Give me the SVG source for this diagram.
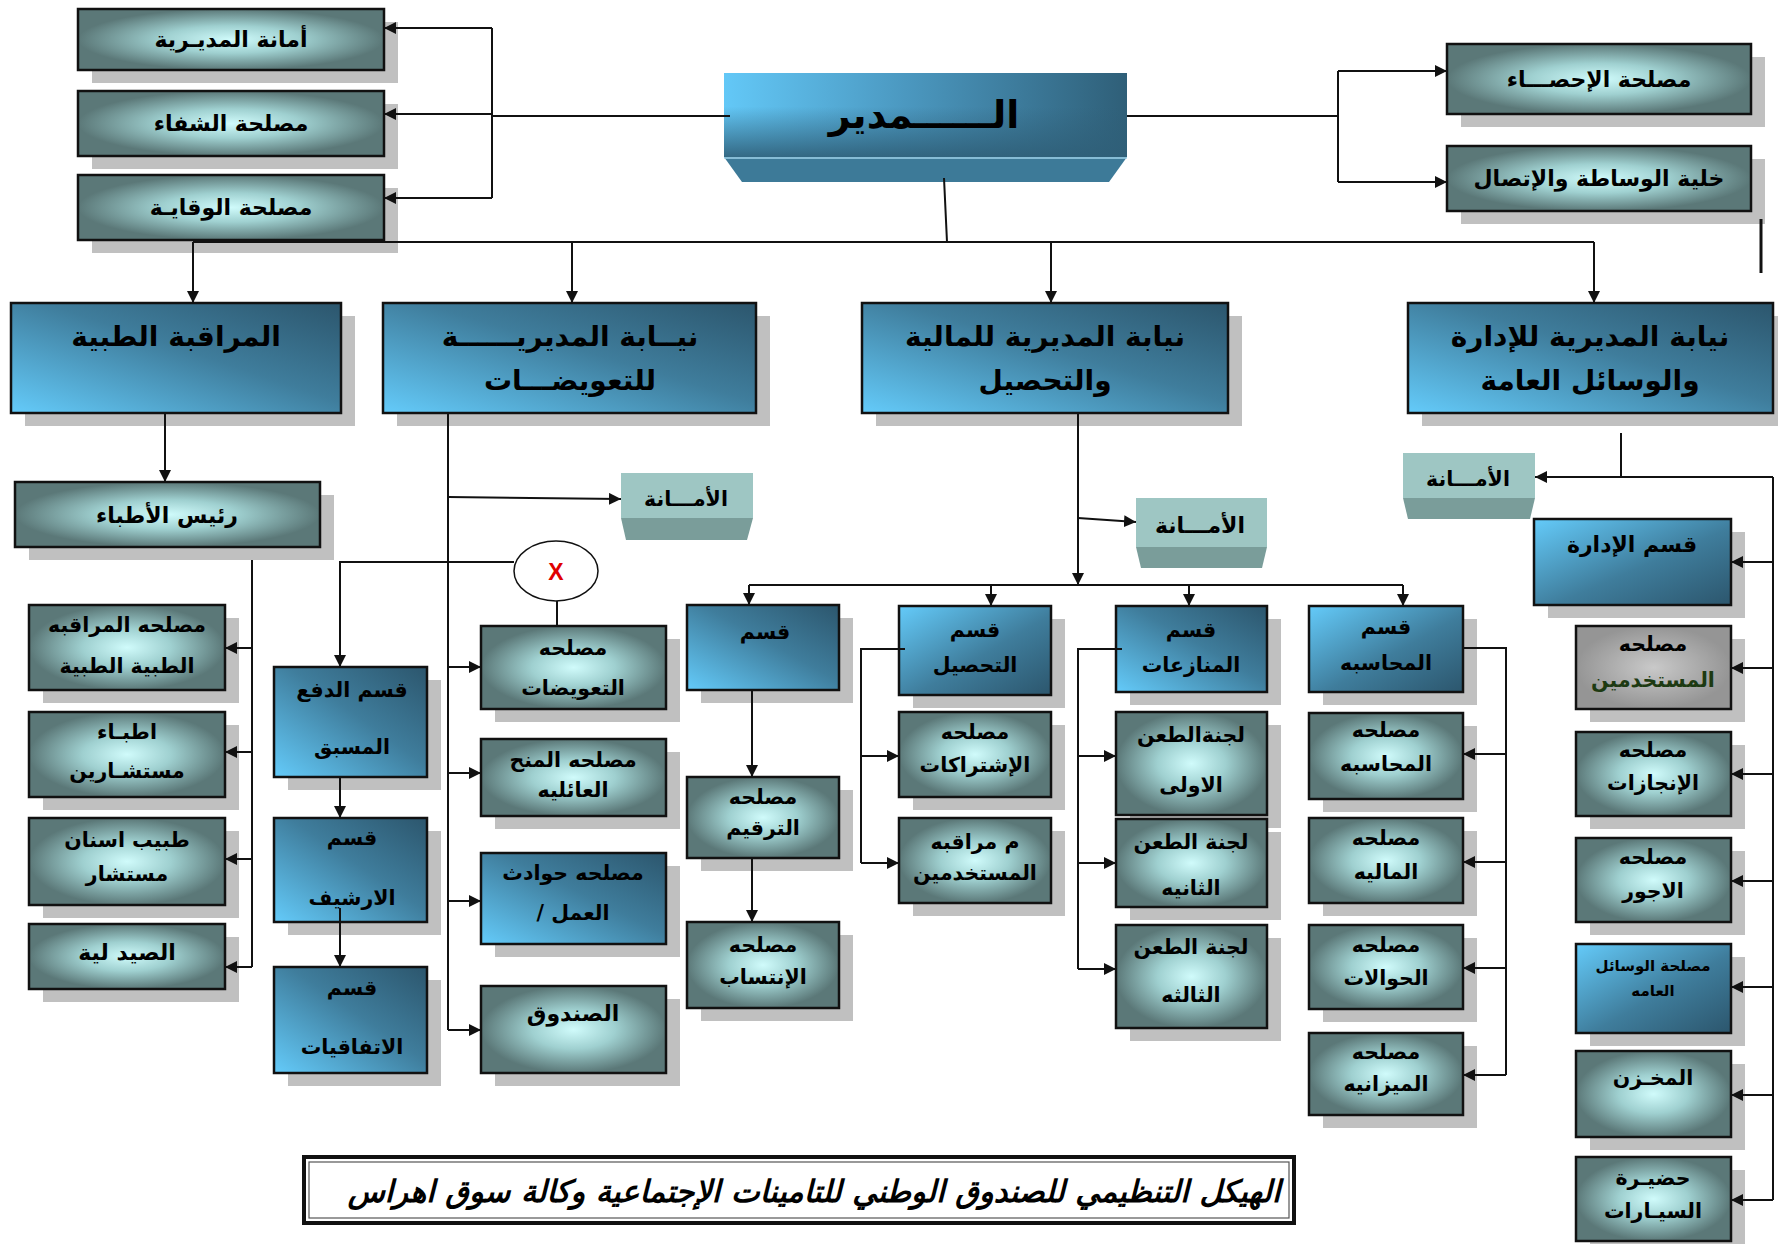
<svg xmlns="http://www.w3.org/2000/svg" width="1778" height="1244" viewBox="0 0 1778 1244">
<defs>
<radialGradient id="gTeal" cx="0.5" cy="0.5" r="0.5">
<stop offset="0" stop-color="#d0fbfb"/><stop offset="0.45" stop-color="#9fd0d0"/><stop offset="1" stop-color="#5b7878"/>
</radialGradient>
<radialGradient id="gGrey" cx="0.5" cy="0.5" r="0.5">
<stop offset="0" stop-color="#c9c9c9"/><stop offset="1" stop-color="#959595"/>
</radialGradient>
<linearGradient id="gBlueA" x1="0" y1="1" x2="1" y2="0">
<stop offset="0" stop-color="#64cbfa"/><stop offset="0.55" stop-color="#3f7d9c"/><stop offset="1" stop-color="#2c566d"/>
</linearGradient>
<linearGradient id="gBlueB" x1="0" y1="0" x2="1" y2="1">
<stop offset="0" stop-color="#64cbfa"/><stop offset="0.55" stop-color="#3f7d9c"/><stop offset="1" stop-color="#2c566d"/>
</linearGradient>
<linearGradient id="gDirH" x1="0" y1="0" x2="1" y2="0">
<stop offset="0" stop-color="#63c8f7"/><stop offset="0.45" stop-color="#4b98c0"/><stop offset="1" stop-color="#2f5f78"/>
</linearGradient>
<linearGradient id="gDirV" x1="0" y1="0" x2="0" y2="1">
<stop offset="0" stop-color="#2f5f78" stop-opacity="0"/><stop offset="0.4" stop-color="#2f5f78" stop-opacity="0"/><stop offset="1" stop-color="#2f5f78" stop-opacity="0.9"/>
</linearGradient>
<marker id="arr" markerUnits="userSpaceOnUse" markerWidth="12" markerHeight="12" refX="12" refY="6" orient="auto">
<path d="M0,0 L12,6 L0,12 z" fill="#111"/>
</marker>
<style>
.sh{fill:#c0c0c0}
.teal{fill:url(#gTeal);stroke:#111;stroke-width:2.5}
.grey{fill:url(#gGrey);stroke:#111;stroke-width:2.5}
.blA{fill:url(#gBlueA);stroke:#111;stroke-width:2.5}
.blB{fill:url(#gBlueB);stroke:#111;stroke-width:2.5}
.amf{fill:#9ec6c3}
.amb{fill:#7a9d9a}
text{font-family:"DejaVu Sans","Noto Sans",sans-serif;font-weight:bold;fill:#000;text-anchor:middle}
.s19{font-size:20.5px}
.s22{font-size:22px}
.s28{font-size:28px}
.ln{stroke:#111;stroke-width:2;fill:none}
.ar{stroke:#111;stroke-width:2;fill:none;marker-end:url(#arr)}
</style>
</defs>
<rect width="1778" height="1244" fill="#fff"/>

<g id="n-amana-mudiriya"><rect class="sh" x="92" y="22" width="306" height="61"/><rect class="teal" x="78" y="9" width="306" height="61"/><text class="s22" x="231" y="47">أمانة المديـرية</text></g>
<g id="n-shifa"><rect class="sh" x="92" y="104" width="306" height="65"/><rect class="teal" x="78" y="91" width="306" height="65"/><text class="s22" x="231" y="131">مصلحة الشفاء</text></g>
<g id="n-wiqaya"><rect class="sh" x="92" y="188" width="306" height="65"/><rect class="teal" x="78" y="175" width="306" height="65"/><text class="s22" x="231" y="215">مصلحة الوقايـة</text></g>

<g id="n-mudir"><rect x="724" y="73" width="403" height="84" fill="url(#gDirH)"/><rect x="724" y="73" width="403" height="84" fill="url(#gDirV)"/><polygon points="724,157 1127,157 1109,182 742,182" fill="#3d7a98"/><line x1="724" y1="158" x2="1127" y2="158" stroke="#9fd3ea" stroke-width="1.5"/><text x="924" y="128" style="font-size:38px">الــــــمدير</text></g>

<g id="n-ihsa"><rect class="sh" x="1461" y="57" width="304" height="70"/><rect class="teal" x="1447" y="44" width="304" height="70"/><text class="s22" x="1599" y="87">مصلحة الإحصـــاء</text></g>
<g id="n-khalia"><rect class="sh" x="1461" y="159" width="304" height="65"/><rect class="teal" x="1447" y="146" width="304" height="65"/><text class="s22" x="1599" y="186">خلية الوساطة والإتصال</text></g>

<g id="n-muraqaba"><rect class="sh" x="25" y="316" width="330" height="110"/><rect class="blA" x="11" y="303" width="330" height="110"/><text class="s28" x="176" y="346">المراقبة الطبية</text></g>
<g id="n-taawidat"><rect class="sh" x="397" y="316" width="373" height="110"/><rect class="blA" x="383" y="303" width="373" height="110"/><text class="s28" x="570" y="346">نيــابة المديريــــــة</text><text class="s28" x="570" y="390">للتعويضـــات</text></g>
<g id="n-maliya"><rect class="sh" x="876" y="316" width="366" height="110"/><rect class="blA" x="862" y="303" width="366" height="110"/><text class="s28" x="1045" y="346">نيابة المديرية للمالية</text><text class="s28" x="1045" y="390">والتحصيل</text></g>
<g id="n-idara"><rect class="sh" x="1422" y="316" width="365" height="110"/><rect class="blA" x="1408" y="303" width="365" height="110"/><text class="s28" x="1590" y="346">نيابة المديرية للإدارة</text><text class="s28" x="1590" y="390">والوسائل العامة</text></g>

<g id="n-rais"><rect class="sh" x="29" y="495" width="305" height="65"/><rect class="teal" x="15" y="482" width="305" height="65"/><text class="s22" x="167" y="523">رئيس الأطباء</text></g>

<g id="n-amana-1"><rect class="amf" x="621" y="473" width="132" height="45"/><polygon class="amb" points="621,518 753,518 747,540 626,540"/><text class="s19" x="686" y="506">الأمـــانة</text></g>
<g id="n-amana-2"><rect class="amf" x="1136" y="498" width="131" height="49"/><polygon class="amb" points="1136,547 1267,547 1262,568 1141,568"/><text class="s22" x="1200" y="533">الأمـــانة</text></g>
<g id="n-amana-3"><rect class="amf" x="1403" y="453" width="132" height="45"/><polygon class="amb" points="1403,498 1535,498 1530,519 1408,519"/><text class="s19" x="1468" y="486">الأمـــانة</text></g>

<g id="n-x"><ellipse cx="556" cy="571" rx="42" ry="30" fill="#fff" stroke="#111" stroke-width="1.5"/><text x="556" y="580" style="font-size:23px;fill:#e00000;font-family:'Liberation Sans',sans-serif">X</text></g>

<g id="n-m-muraqaba"><rect class="sh" x="43" y="618" width="196" height="85"/><rect class="teal" x="29" y="605" width="196" height="85"/><text class="s19" x="127" y="632">مصلحه المراقبه</text><text class="s19" x="127" y="673">الطبية الطبية</text></g>
<g id="n-atibba"><rect class="sh" x="43" y="725" width="196" height="85"/><rect class="teal" x="29" y="712" width="196" height="85"/><text class="s19" x="127" y="739">اطبـاء</text><text class="s19" x="127" y="778">مستشـارين</text></g>
<g id="n-asnan"><rect class="sh" x="43" y="831" width="196" height="87"/><rect class="teal" x="29" y="818" width="196" height="87"/><text class="s19" x="127" y="847">طبيب اسنان</text><text class="s19" x="127" y="881">مستشار</text></g>
<g id="n-saydalia"><rect class="sh" x="43" y="937" width="196" height="65"/><rect class="teal" x="29" y="924" width="196" height="65"/><text class="s22" x="127" y="960">الصيد لية</text></g>

<g id="n-daf"><rect class="sh" x="288" y="680" width="153" height="110"/><rect class="blA" x="274" y="667" width="153" height="110"/><text class="s19" x="352" y="697">قسم الدفع</text><text class="s19" x="352" y="754">المسبق</text></g>
<g id="n-arshif"><rect class="sh" x="288" y="831" width="153" height="104"/><rect class="blA" x="274" y="818" width="153" height="104"/><text class="s19" x="352" y="845">قسم</text><text class="s19" x="352" y="905">الارشيف</text></g>
<g id="n-ittifaqiyat"><rect class="sh" x="288" y="980" width="153" height="106"/><rect class="blA" x="274" y="967" width="153" height="106"/><text class="s19" x="352" y="995">قسم</text><text class="s19" x="352" y="1054">الاتفاقيات</text></g>

<g id="n-m-taawidat"><rect class="sh" x="495" y="639" width="185" height="83"/><rect class="teal" x="481" y="626" width="185" height="83"/><text class="s19" x="573" y="655">مصلحه</text><text class="s19" x="573" y="695">التعويضات</text></g>
<g id="n-minah"><rect class="sh" x="495" y="752" width="185" height="77"/><rect class="teal" x="481" y="739" width="185" height="77"/><text class="s19" x="573" y="767">مصلحه المنح</text><text class="s19" x="573" y="797">العائليه</text></g>
<g id="n-hawadith"><rect class="sh" x="495" y="866" width="185" height="91"/><rect class="blA" x="481" y="853" width="185" height="91"/><text class="s19" x="573" y="880">مصلحه حوادث</text><text class="s19" x="573" y="920" direction="rtl">العمل /</text></g>
<g id="n-sunduq"><rect class="sh" x="495" y="999" width="185" height="87"/><rect class="teal" x="481" y="986" width="185" height="87"/><text class="s22" x="573" y="1021">الصندوق</text></g>

<g id="n-qism"><rect class="sh" x="701" y="618" width="152" height="85"/><rect class="blA" x="687" y="605" width="152" height="85"/><text class="s19" x="765" y="639">قسم</text></g>
<g id="n-tarqim"><rect class="sh" x="701" y="790" width="152" height="81"/><rect class="teal" x="687" y="777" width="152" height="81"/><text class="s19" x="763" y="804">مصلحه</text><text class="s19" x="763" y="835">الترقيم</text></g>
<g id="n-intisab"><rect class="sh" x="701" y="935" width="152" height="86"/><rect class="teal" x="687" y="922" width="152" height="86"/><text class="s19" x="763" y="952">مصلحه</text><text class="s19" x="763" y="984">الإنتساب</text></g>

<g id="n-tahsil"><rect class="sh" x="913" y="619" width="152" height="89"/><rect class="blB" x="899" y="606" width="152" height="89"/><text class="s19" x="975" y="637">قسم</text><text class="s19" x="975" y="672">التحصيل</text></g>
<g id="n-ishtirakat"><rect class="sh" x="913" y="725" width="152" height="85"/><rect class="teal" x="899" y="712" width="152" height="85"/><text class="s19" x="975" y="739">مصلحه</text><text class="s19" x="975" y="772">الإشتراكات</text></g>
<g id="n-m-mustakhdimin"><rect class="sh" x="913" y="831" width="152" height="85"/><rect class="teal" x="899" y="818" width="152" height="85"/><text class="s19" x="975" y="849">م مراقبه</text><text class="s19" x="975" y="880">المستخدمين</text></g>

<g id="n-munazaat"><rect class="sh" x="1130" y="619" width="151" height="86"/><rect class="blA" x="1116" y="606" width="151" height="86"/><text class="s19" x="1191" y="637">قسم</text><text class="s19" x="1191" y="672">المنازعات</text></g>
<g id="n-taan1"><rect class="sh" x="1130" y="725" width="151" height="103"/><rect class="teal" x="1116" y="712" width="151" height="103"/><text class="s19" x="1191" y="742">لجنةالطعن</text><text class="s19" x="1191" y="792">الاولى</text></g>
<g id="n-taan2"><rect class="sh" x="1130" y="832" width="151" height="88"/><rect class="teal" x="1116" y="819" width="151" height="88"/><text class="s19" x="1191" y="849">لجنة الطعن</text><text class="s19" x="1191" y="895">الثانيه</text></g>
<g id="n-taan3"><rect class="sh" x="1130" y="938" width="151" height="103"/><rect class="teal" x="1116" y="925" width="151" height="103"/><text class="s19" x="1191" y="954">لجنة الطعن</text><text class="s19" x="1191" y="1002">الثالثه</text></g>

<g id="n-muhasaba"><rect class="sh" x="1323" y="619" width="154" height="86"/><rect class="blB" x="1309" y="606" width="154" height="86"/><text class="s19" x="1386" y="634">قسم</text><text class="s19" x="1386" y="670">المحاسبه</text></g>
<g id="n-m-muhasaba"><rect class="sh" x="1323" y="726" width="154" height="86"/><rect class="teal" x="1309" y="713" width="154" height="86"/><text class="s19" x="1386" y="737">مصلحه</text><text class="s19" x="1386" y="771">المحاسبه</text></g>
<g id="n-m-maliya"><rect class="sh" x="1323" y="831" width="154" height="85"/><rect class="teal" x="1309" y="818" width="154" height="85"/><text class="s19" x="1386" y="845">مصلحه</text><text class="s19" x="1386" y="879">الماليه</text></g>
<g id="n-hawalat"><rect class="sh" x="1323" y="938" width="154" height="84"/><rect class="teal" x="1309" y="925" width="154" height="84"/><text class="s19" x="1386" y="952">مصلحه</text><text class="s19" x="1386" y="985">الحوالات</text></g>
<g id="n-mizania"><rect class="sh" x="1323" y="1046" width="154" height="82"/><rect class="teal" x="1309" y="1033" width="154" height="82"/><text class="s19" x="1386" y="1059">مصلحه</text><text class="s19" x="1386" y="1091">الميزانيه</text></g>

<g id="n-qism-idara"><rect class="sh" x="1548" y="532" width="197" height="86"/><rect class="blB" x="1534" y="519" width="197" height="86"/><text class="s22" x="1632" y="552">قسم الإدارة</text></g>
<g id="n-mustakhdimin"><rect class="sh" x="1590" y="639" width="155" height="83"/><rect class="grey" x="1576" y="626" width="155" height="83"/><text class="s19" x="1653" y="651">مصلحه</text><text class="s19" x="1653" y="687" style="fill:#1d3a12">المستخدمين</text></g>
<g id="n-injazat"><rect class="sh" x="1590" y="745" width="155" height="84"/><rect class="teal" x="1576" y="732" width="155" height="84"/><text class="s19" x="1653" y="757">مصلحه</text><text class="s19" x="1653" y="790">الإنجازات</text></g>
<g id="n-ujur"><rect class="sh" x="1590" y="851" width="155" height="84"/><rect class="teal" x="1576" y="838" width="155" height="84"/><text class="s19" x="1653" y="864">مصلحه</text><text class="s19" x="1653" y="898">الاجور</text></g>
<g id="n-wasail"><rect class="sh" x="1590" y="957" width="155" height="89"/><rect class="blB" x="1576" y="944" width="155" height="89"/><text x="1653" y="971" style="font-size:15px">مصلحة الوسائل</text><text x="1653" y="996" style="font-size:15px">العامه</text></g>
<g id="n-makhzan"><rect class="sh" x="1590" y="1064" width="155" height="86"/><rect class="teal" x="1576" y="1051" width="155" height="86"/><text class="s19" x="1653" y="1085">المخـزن</text></g>
<g id="n-hadira"><rect class="sh" x="1590" y="1170" width="155" height="84"/><rect class="teal" x="1576" y="1157" width="155" height="84"/><text class="s19" x="1653" y="1185">حضيـرة</text><text class="s19" x="1653" y="1218">السيـارات</text></g>

<g id="title"><rect x="304" y="1157" width="990" height="66" fill="#fff" stroke="#111" stroke-width="4"/><rect x="309" y="1162" width="980" height="56" fill="none" stroke="#555" stroke-width="1.2"/><text x="814" y="1202" style="font-size:30.5px;font-style:italic">الهيكل التنظيمي للصندوق الوطني للتامينات الإجتماعية  وكالة سوق اهراس</text></g>

<g id="connectors">
<path class="ln" d="M730,116 H492 M492,28 V198"/>
<path class="ar" d="M492,28 H384"/>
<path class="ar" d="M492,114 H384"/>
<path class="ar" d="M492,198 H384"/>
<path class="ln" d="M1127,116 H1338 M1338,71 V182"/>
<path class="ar" d="M1338,71 H1447"/>
<path class="ar" d="M1338,182 H1447"/>
<path class="ln" d="M944,178 L947,242 M193,242 H1594"/>
<path class="ar" d="M193,242 V303"/>
<path class="ar" d="M572,242 V303"/>
<path class="ar" d="M1051,242 V303"/>
<path class="ar" d="M1594,242 V303"/>
<path d="M1761,219 V273" stroke="#111" stroke-width="3"/>
<path class="ar" d="M165,413 V482"/>
<path class="ln" d="M252,560 V967"/>
<path class="ar" d="M252,648 H225"/>
<path class="ar" d="M252,752 H225"/>
<path class="ar" d="M252,859 H225"/>
<path class="ar" d="M252,967 H225"/>
<path class="ln" d="M448,413 V1030"/>
<path class="ar" d="M448,497 L621,499"/>
<path class="ar" d="M448,667 H481"/>
<path class="ar" d="M448,773 H481"/>
<path class="ar" d="M448,901 H481"/>
<path class="ar" d="M448,1030 H481"/>
<path class="ar" d="M514,562 H340 V667"/>
<path class="ln" d="M557,601 V626"/>
<path class="ar" d="M340,777 V818"/>
<path class="ar" d="M340,908 V967"/>
<path class="ar" d="M1078,413 V585"/>
<path class="ar" d="M1078,518 L1136,522"/>
<path class="ln" d="M749,585 H1403"/>
<path class="ar" d="M749,585 V605"/>
<path class="ar" d="M991,585 V606"/>
<path class="ar" d="M1189,585 V606"/>
<path class="ar" d="M1403,585 V606"/>
<path class="ar" d="M752,690 V777"/>
<path class="ar" d="M752,858 V922"/>
<path class="ln" d="M905,649 H861 V863"/>
<path class="ar" d="M861,756 H899"/>
<path class="ar" d="M861,863 H899"/>
<path class="ln" d="M1122,649 H1078 V969"/>
<path class="ar" d="M1078,756 H1116"/>
<path class="ar" d="M1078,863 H1116"/>
<path class="ar" d="M1078,969 H1116"/>
<path class="ln" d="M1463,648 H1506 V1075"/>
<path class="ar" d="M1506,754 H1463"/>
<path class="ar" d="M1506,862 H1463"/>
<path class="ar" d="M1506,968 H1463"/>
<path class="ar" d="M1506,1075 H1463"/>
<path class="ln" d="M1621,433 V477 M1773,477 V1200"/>
<path class="ar" d="M1773,477 H1535"/>
<path class="ar" d="M1773,562 H1731"/>
<path class="ar" d="M1773,668 H1731"/>
<path class="ar" d="M1773,774 H1731"/>
<path class="ar" d="M1773,881 H1731"/>
<path class="ar" d="M1773,987 H1731"/>
<path class="ar" d="M1773,1095 H1731"/>
<path class="ar" d="M1773,1200 H1731"/>
</g>
</svg>
